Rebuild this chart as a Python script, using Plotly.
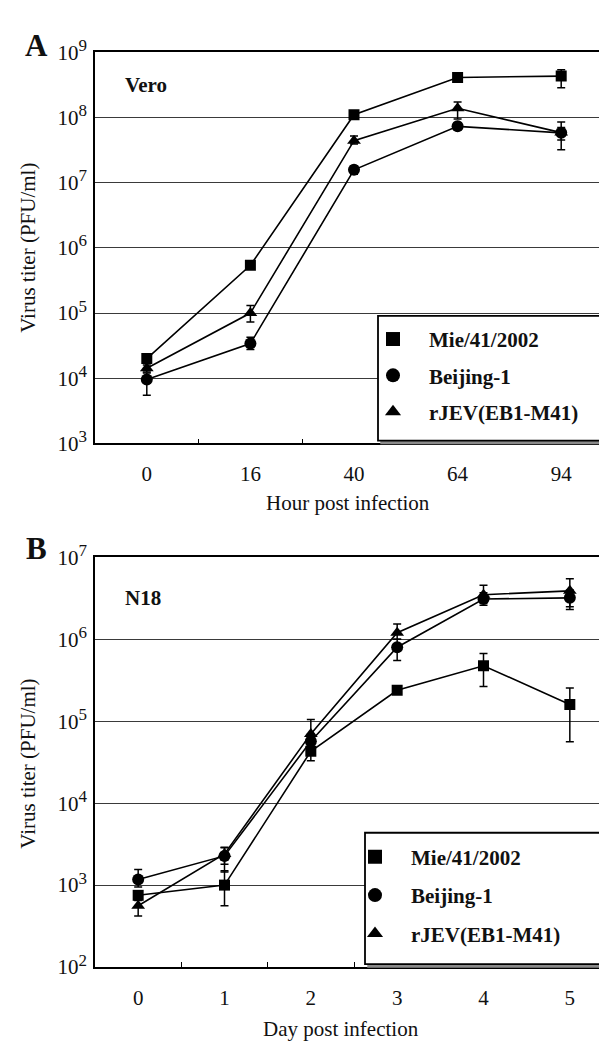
import plotly.graph_objects as go

# ---------------- data ----------------
hours = ["0", "16", "40", "64", "94"]
days = ["0", "1", "2", "3", "4", "5"]
series_names = ["Mie/41/2002", "Beijing-1", "rJEV(EB1-M41)"]

# Panel A (Vero), PFU/ml
mie_A = [2.0e4, 5.4e5, 1.1e8, 4.1e8, 4.3e8]
mie_A_hi = [2.3e4, 6.1e5, 1.2e8, 4.5e8, 5.4e8]
mie_A_lo = [1.75e4, 4.8e5, 1.0e8, 3.75e8, 2.85e8]

bei_A = [9.6e3, 3.4e4, 1.57e7, 7.3e7, 5.8e7]
bei_A_hi = [1.2e4, 4.27e4, 1.8e7, 8.2e7, 7.0e7]
bei_A_lo = [5.5e3, 2.75e4, 1.35e7, 6.5e7, 3.2e7]

rj_A = [1.42e4, 1.0e5, 4.4e7, 1.38e8, 5.85e7]
rj_A_hi = [1.6e4, 1.3e5, 5.2e7, 1.73e8, 8.5e7]
rj_A_lo = [1.25e4, 7.3e4, 3.9e7, 9.5e7, 4.5e7]

# Panel B (N18), PFU/ml
mie_B = [750, 1000, 4.3e4, 2.38e5, 4.75e5, 1.6e5]
mie_B_hi = [850, 1.5e3, 5.2e4, 2.6e5, 6.7e5, 2.54e5]
mie_B_lo = [650, 5.6e2, 3.3e4, 2.2e5, 2.65e5, 5.6e4]

bei_B = [1170, 2270, 5.7e4, 8.0e5, 3.1e6, 3.2e6]
bei_B_hi = [1.55e3, 2.85e3, 7.0e4, 1.0e6, 3.7e6, 4.0e6]
bei_B_lo = [950, 1.8e3, 4.6e4, 5.5e5, 2.6e6, 2.3e6]

rj_B = [560, 2400, 7.0e4, 1.2e6, 3.5e6, 3.9e6]
rj_B_hi = [700, 2.9e3, 1.05e5, 1.54e6, 4.56e6, 5.46e6]
rj_B_lo = [420, 1.44e3, 5.5e4, 1.0e6, 2.9e6, 2.5e6]

symbols = ["square", "circle", "triangle-up"]
marker_sizes = [11, 12, 12]

y_exp_A = [3, 4, 5, 6, 7, 8, 9]
y_exp_B = [2, 3, 4, 5, 6, 7]

# ---------------- figure ----------------
W, H = 607, 1045
SERIF = "Liberation Serif, Times New Roman, serif"
fig = go.Figure()


def px_x(p):
    return p / W


def px_y(p):
    return 1 - p / H


def add_panel(xcats, vals, his, los, xa, ya, legend):
    for i, (v, hi, lo) in enumerate(zip(vals, his, los)):
        fig.add_trace(go.Scatter(
            x=xcats, y=v, mode="lines+markers",
            line=dict(color="black", width=1.6),
            marker=dict(symbol=symbols[i], size=marker_sizes[i], color="black"),
            error_y=dict(type="data", symmetric=False,
                         array=[h - a for h, a in zip(hi, v)],
                         arrayminus=[a - l for a, l in zip(v, lo)],
                         color="black", thickness=1.5, width=4),
            xaxis=xa, yaxis=ya, showlegend=False, hoverinfo="skip"))
        # legend entry (marker only)
        fig.add_trace(go.Scatter(
            x=[None], y=[None], mode="markers", name=series_names[i],
            marker=dict(symbol=symbols[i], size=14, color="black"),
            xaxis=xa, yaxis=ya, legend=legend, legendgroup=legend + str(i),
            showlegend=True))


add_panel(hours, [mie_A, bei_A, rj_A], [mie_A_hi, bei_A_hi, rj_A_hi],
          [mie_A_lo, bei_A_lo, rj_A_lo], "x", "y", "legend")
add_panel(days, [mie_B, bei_B, rj_B], [mie_B_hi, bei_B_hi, rj_B_hi],
          [mie_B_lo, bei_B_lo, rj_B_lo], "x2", "y2", "legend2")

x_dom = [px_x(87), px_x(605)]
A_dom = [px_y(431), px_y(29)]
B_dom = [px_y(969), px_y(548)]


def sup_label(e):
    return '10<sup><span style="font-size:17px">%d</span></sup>' % e


xcommon = dict(type="category", showline=True, mirror=True, linecolor="black",
               linewidth=1.6, ticks="inside", ticklen=5, tickwidth=1.2,
               tickcolor="black", tickson="boundaries", showgrid=False,
               zeroline=False, tickfont=dict(family=SERIF, size=21, color="#111"),
               ticklabelstandoff=11, fixedrange=True)
ycommon = dict(type="log", showline=True, mirror=True, linecolor="black",
               linewidth=1.6, ticks="", showgrid=True, gridcolor="#3a3a3a",
               gridwidth=1.4, zeroline=False,
               tickfont=dict(family=SERIF, size=21, color="#111"),
               ticklabelstandoff=2, fixedrange=True)

legend_font = dict(family=SERIF, size=21, color="#111", weight="bold")
fig.update_layout(
    width=W, height=H, autosize=False,
    margin=dict(l=0, r=0, t=0, b=0),
    paper_bgcolor="white", plot_bgcolor="white",
    font=dict(family=SERIF, color="#111"),
    xaxis=dict(domain=x_dom, anchor="y", range=[-0.5, 4.5], **xcommon),
    yaxis=dict(domain=A_dom, anchor="x", range=[3, 9],
               tickvals=[10 ** e for e in y_exp_A],
               ticktext=[sup_label(e) for e in y_exp_A], **ycommon),
    xaxis2=dict(domain=x_dom, anchor="y2", range=[-0.5, 5.5], **xcommon),
    yaxis2=dict(domain=B_dom, anchor="x2", range=[2, 7],
                tickvals=[10 ** e for e in y_exp_B],
                ticktext=[sup_label(e) for e in y_exp_B], **ycommon),
    legend=dict(x=px_x(349), y=px_y(303), xanchor="left", yanchor="top",
                bgcolor="rgba(0,0,0,0)", borderwidth=0, itemwidth=62,
                tracegroupgap=6, itemclick=False, itemdoubleclick=False,
                font=legend_font),
    legend2=dict(x=px_x(331), y=px_y(835), xanchor="left", yanchor="top",
                 bgcolor="rgba(0,0,0,0)", borderwidth=0, itemwidth=62,
                 tracegroupgap=8, itemclick=False, itemdoubleclick=False,
                 font=legend_font),
)

# legend boxes with slight shadow
for (l, t, r, b) in [(370, 300, 601, 428), (357, 831, 601, 966)]:
    fig.add_shape(type="rect", xref="paper", yref="paper",
                  x0=px_x(l + 3), x1=px_x(r + 3), y0=px_y(b + 3), y1=px_y(t + 3),
                  line=dict(color="#8a8a8a", width=1.5), fillcolor="#8a8a8a",
                  layer="above")
    fig.add_shape(type="rect", xref="paper", yref="paper",
                  x0=px_x(l), x1=px_x(r), y0=px_y(b), y1=px_y(t),
                  line=dict(color="black", width=1.8), fillcolor="white",
                  layer="above")

annos = [
    dict(text="<b>A</b>", x=px_x(28), y=px_y(22), size=31),
    dict(text="<b>B</b>", x=px_x(28), y=px_y(539), size=31),
    dict(text="<b>Vero</b>", x=px_x(138), y=px_y(63), size=21),
    dict(text="<b>N18</b>", x=px_x(135), y=px_y(590), size=21),
    dict(text="Hour post infection", x=px_x(340), y=px_y(492), size=21),
    dict(text="Day post infection", x=px_x(333), y=px_y(1033), size=21),
]
for a in annos:
    fig.add_annotation(text=a["text"], x=a["x"], y=a["y"], xref="paper",
                       yref="paper", showarrow=False, xanchor="center",
                       yanchor="middle",
                       font=dict(family=SERIF, size=a["size"], color="#111"))
for yc in [230, 760]:
    fig.add_annotation(text="Virus titer (PFU/ml)", x=px_x(20), y=px_y(yc),
                       xref="paper", yref="paper", showarrow=False,
                       textangle=-90, xanchor="center", yanchor="middle",
                       font=dict(family=SERIF, size=21, color="#111"))

fig.write_html("out.html")
